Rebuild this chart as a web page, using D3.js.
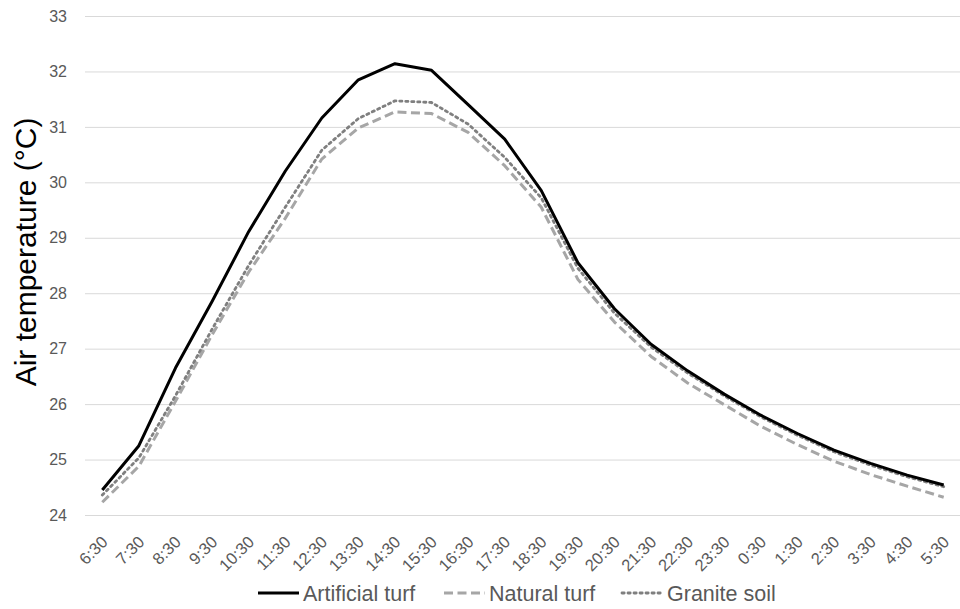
<!DOCTYPE html>
<html>
<head>
<meta charset="utf-8">
<script src="https://cdn.jsdelivr.net/npm/d3@7"></script>
<style>
  body { margin: 0; background: #fff; }
  svg { display: block; font-family: "Liberation Sans", Arial, sans-serif; }
</style>
</head>
<body>
<svg></svg>
<script>
// size of the picture
let width = 960
let height = 609

// categories on the x axis
const times = ['6:30','7:30','8:30','9:30','10:30','11:30','12:30','13:30','14:30','15:30','16:30','17:30',
               '18:30','19:30','20:30','21:30','22:30','23:30','0:30','1:30','2:30','3:30','4:30','5:30']

// series values (air temperature, °C)
const artificialTurf = [24.45,25.25,26.65,27.85,29.11,30.2,31.16,31.85,32.14,32.02,31.4,30.78,
                        29.85,28.55,27.72,27.08,26.6,26.18,25.8,25.47,25.17,24.93,24.72,24.54]
const naturalTurf = [24.23,24.88,26.05,27.25,28.38,29.35,30.42,30.98,31.27,31.24,30.9,30.3,
                     29.55,28.25,27.48,26.86,26.38,25.99,25.6,25.27,24.97,24.73,24.52,24.32]
const graniteSoil = [24.36,25.03,26.15,27.35,28.5,29.55,30.58,31.15,31.47,31.44,31.05,30.45,
                     29.72,28.45,27.64,27.03,26.56,26.15,25.77,25.44,25.14,24.9,24.69,24.51]

// y tick values
const yTicks = [24,25,26,27,28,29,30,31,32,33]

const seriesNames = ['Artificial turf','Natural turf','Granite soil']

let svg = d3.select('svg').attr('width', width).attr('height', height)

// scales
let xScale = d3.scalePoint()
               .domain(times)
               .range([84, 962])
               .padding(0.5)

let yScale = d3.scaleLinear()
               .domain([24, 33])
               .range([515, 16])

// line styles per series
const styles = [
  { color: '#000000', dash: null, cap: 'butt', w: 3 },
  { color: '#a6a6a6', dash: '9,4.5', cap: 'butt', w: 3 },
  { color: '#7f7f7f', dash: '2.2,3.8', cap: 'round', w: 2.8 }
]

//gridlines + y labels
let yAxis = d3.axisLeft(yScale)
              .tickValues(yTicks)
              .tickSize(-(960 - 85))
              .tickPadding(18)
              .tickFormat(d3.format('d'))

let gy = svg.append('g')
    .attr('transform', 'translate(85,0)')
    .call(yAxis)
gy.select('.domain').remove()
gy.selectAll('.tick line').attr('stroke', '#d9d9d9').attr('stroke-width', 1)
gy.selectAll('.tick text')
    .attr('fill', '#595959')
    .style('font-size', '16px')

// x labels (no axis line in the reference)
let xAxis = d3.axisBottom(xScale).tickSize(0).tickPadding(0)
let gx = svg.append('g')
    .attr('transform', 'translate(0,515)')
    .call(xAxis)
gx.select('.domain').remove()
gx.selectAll('.tick text')
    .attr('fill', '#595959')
    .style('font-size', '16.5px')
    .attr('text-anchor', 'end')
    .attr('dy', null)
    .attr('transform', 'translate(6,28) rotate(-45)')

// lines
let lineGen = d3.line()
    .x((d, i) => xScale(times[i]))
    .y(d => yScale(d))

const allSeries = [artificialTurf, naturalTurf, graniteSoil]
// draw granite and natural first, black on top
;[1, 2, 0].forEach(k => {
  svg.append('path')
     .datum(allSeries[k])
     .attr('fill', 'none')
     .attr('stroke', styles[k].color)
     .attr('stroke-width', styles[k].w)
     .attr('stroke-dasharray', styles[k].dash)
     .attr('stroke-linecap', styles[k].cap)
     .attr('stroke-linejoin', 'round')
     .attr('d', lineGen)
})

// y axis title
svg.append('text')
   .attr('transform', 'translate(36,252) rotate(-90)')
   .attr('text-anchor', 'middle')
   .attr('fill', '#000')
   .style('font-size', '30px')
   .text('Air temperature (°C)')

// legend
const legendX = [258, 444, 622]
let legend = svg.append('g')
legendX.forEach((lx, k) => {
  legend.append('line')
        .attr('x1', lx).attr('x2', lx + 41)
        .attr('y1', 593).attr('y2', 593)
        .attr('stroke', styles[k].color)
        .attr('stroke-width', styles[k].w)
        .attr('stroke-dasharray', styles[k].dash)
        .attr('stroke-linecap', styles[k].cap)
  legend.append('text')
        .attr('x', lx + 45)
        .attr('y', 601)
        .attr('fill', '#595959')
        .style('font-size', '21.5px')
        .text(seriesNames[k])
})
</script>
</body>
</html>
